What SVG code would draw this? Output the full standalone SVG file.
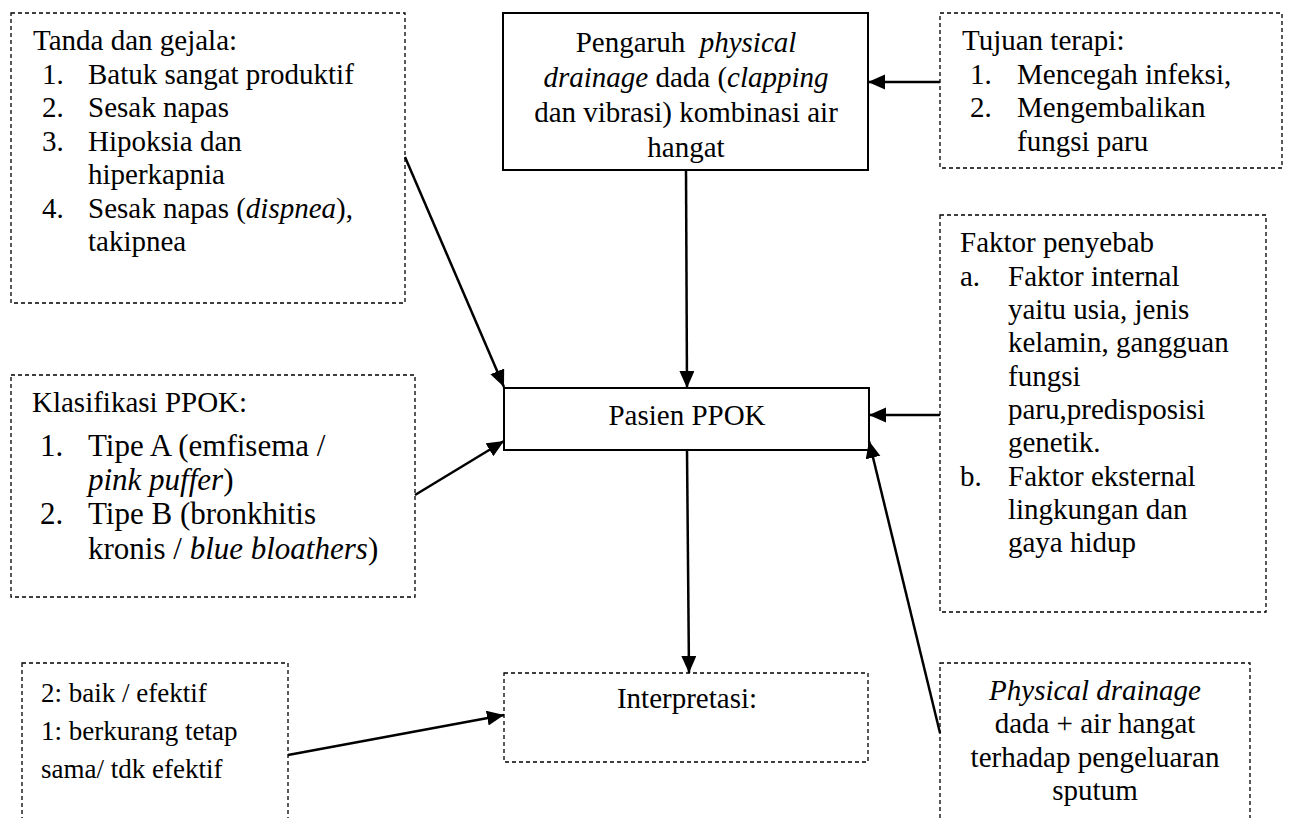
<svg xmlns="http://www.w3.org/2000/svg" width="1289" height="818" viewBox="0 0 1289 818">
<style>
.t { font-family: "Liberation Serif", "Times New Roman", serif; font-size: 29px; fill: #000; }
.big { font-size: 31px; }
.sm { font-size: 27px; }
.i { font-style: italic; }
.mid { text-anchor: middle; }
.dash { fill: #fff; stroke: #000; stroke-width: 1.3; stroke-dasharray: 4 3; }
.solid { fill: #fff; stroke: #000; stroke-width: 2; }
.conn line { stroke: #000; stroke-width: 2.5; fill: none; marker-end: url(#ah); }
</style>
<defs>
<marker id="ah" markerUnits="userSpaceOnUse" markerWidth="18" markerHeight="16" refX="17" refY="7.5" orient="auto">
<path d="M0,0 L17,7.5 L0,15 z" fill="#000"/>
</marker>
</defs>
<rect width="1289" height="818" fill="#fff"/>

<g id="tanda">
<rect class="dash" x="11" y="13" width="394" height="290"/>
<text class="t" x="33" y="50">Tanda dan gejala:</text>
<text class="t" x="42" y="83.5">1.</text><text class="t" x="88" y="83.5">Batuk sangat produktif</text>
<text class="t" x="42" y="117">2.</text><text class="t" x="88" y="117">Sesak napas</text>
<text class="t" x="42" y="150.5">3.</text><text class="t" x="88" y="150.5">Hipoksia dan</text>
<text class="t" x="88" y="184">hiperkapnia</text>
<text class="t" x="42" y="217.5">4.</text><text class="t" x="88" y="217.5">Sesak napas (<tspan class="i">dispnea</tspan>),</text>
<text class="t" x="88" y="251">takipnea</text>
</g>

<g id="pengaruh">
<rect class="solid" x="503" y="13" width="365" height="157"/>
<text class="t mid" x="686" y="52" xml:space="preserve">Pengaruh  <tspan class="i">physical</tspan></text>
<text class="t mid" x="686" y="87"><tspan class="i">drainage</tspan> dada (<tspan class="i">clapping</tspan></text>
<text class="t mid" x="686" y="122">dan vibrasi) kombinasi air</text>
<text class="t mid" x="686" y="157">hangat</text>
</g>

<g id="tujuan">
<rect class="dash" x="940" y="13" width="342" height="155"/>
<text class="t" x="962" y="50">Tujuan terapi:</text>
<text class="t" x="970" y="83.5">1.</text><text class="t" x="1017" y="83.5">Mencegah infeksi,</text>
<text class="t" x="970" y="117">2.</text><text class="t" x="1017" y="117">Mengembalikan</text>
<text class="t" x="1017" y="150.5">fungsi paru</text>
</g>

<g id="faktor">
<rect class="dash" x="940" y="215" width="326" height="397"/>
<text class="t" x="960" y="252">Faktor penyebab</text>
<text class="t" x="960" y="285.5">a.</text><text class="t" x="1008" y="285.5">Faktor internal</text>
<text class="t" x="1008" y="319">yaitu usia, jenis</text>
<text class="t" x="1008" y="352">kelamin, gangguan</text>
<text class="t" x="1008" y="385.5">fungsi</text>
<text class="t" x="1008" y="419">paru,predisposisi</text>
<text class="t" x="1008" y="452">genetik.</text>
<text class="t" x="960" y="485.5">b.</text><text class="t" x="1008" y="485.5">Faktor eksternal</text>
<text class="t" x="1008" y="519">lingkungan dan</text>
<text class="t" x="1008" y="552">gaya hidup</text>
</g>

<g id="pasien">
<rect class="solid" x="504" y="388" width="365" height="62"/>
<text class="t mid" x="687" y="425">Pasien PPOK</text>
</g>

<g id="klasifikasi">
<rect class="dash" x="11" y="375" width="404" height="222"/>
<text class="t" x="32" y="412">Klasifikasi PPOK:</text>
<text class="t big" x="40" y="456">1.</text><text class="t big" x="88" y="456">Tipe A (emfisema /</text>
<text class="t big" x="88" y="490"><tspan class="i">pink puffer</tspan>)</text>
<text class="t big" x="40" y="524">2.</text><text class="t big" x="88" y="524">Tipe B (bronkhitis</text>
<text class="t big" x="88" y="559">kronis / <tspan class="i">blue bloathers</tspan>)</text>
</g>

<g id="skor">
<rect class="dash" x="22" y="663" width="266" height="170"/>
<text class="t sm" x="41" y="702">2: baik / efektif</text>
<text class="t sm" x="41" y="740">1: berkurang tetap</text>
<text class="t sm" x="41" y="778">sama/ tdk efektif</text>
</g>

<g id="interpretasi">
<rect class="dash" x="504" y="673" width="364" height="89"/>
<text class="t mid" x="687" y="708">Interpretasi:</text>
</g>

<g id="physical">
<rect class="dash" x="940" y="663" width="310" height="170"/>
<text class="t mid" x="1095" y="700"><tspan class="i">Physical drainage</tspan></text>
<text class="t mid" x="1095" y="733">dada + air hangat</text>
<text class="t mid" x="1095" y="767">terhadap pengeluaran</text>
<text class="t mid" x="1095" y="800">sputum</text>
</g>

<g id="connectors" class="conn">
<line x1="940" y1="82" x2="868" y2="82"/>
<line x1="686" y1="170" x2="687" y2="388"/>
<line x1="405" y1="157" x2="504" y2="387"/>
<line x1="415" y1="495" x2="504" y2="441"/>
<line x1="940" y1="415" x2="869" y2="415"/>
<line x1="940" y1="733" x2="869" y2="441"/>
<line x1="687" y1="450" x2="689" y2="673"/>
<line x1="288" y1="755" x2="504" y2="715"/>
</g>
</svg>
